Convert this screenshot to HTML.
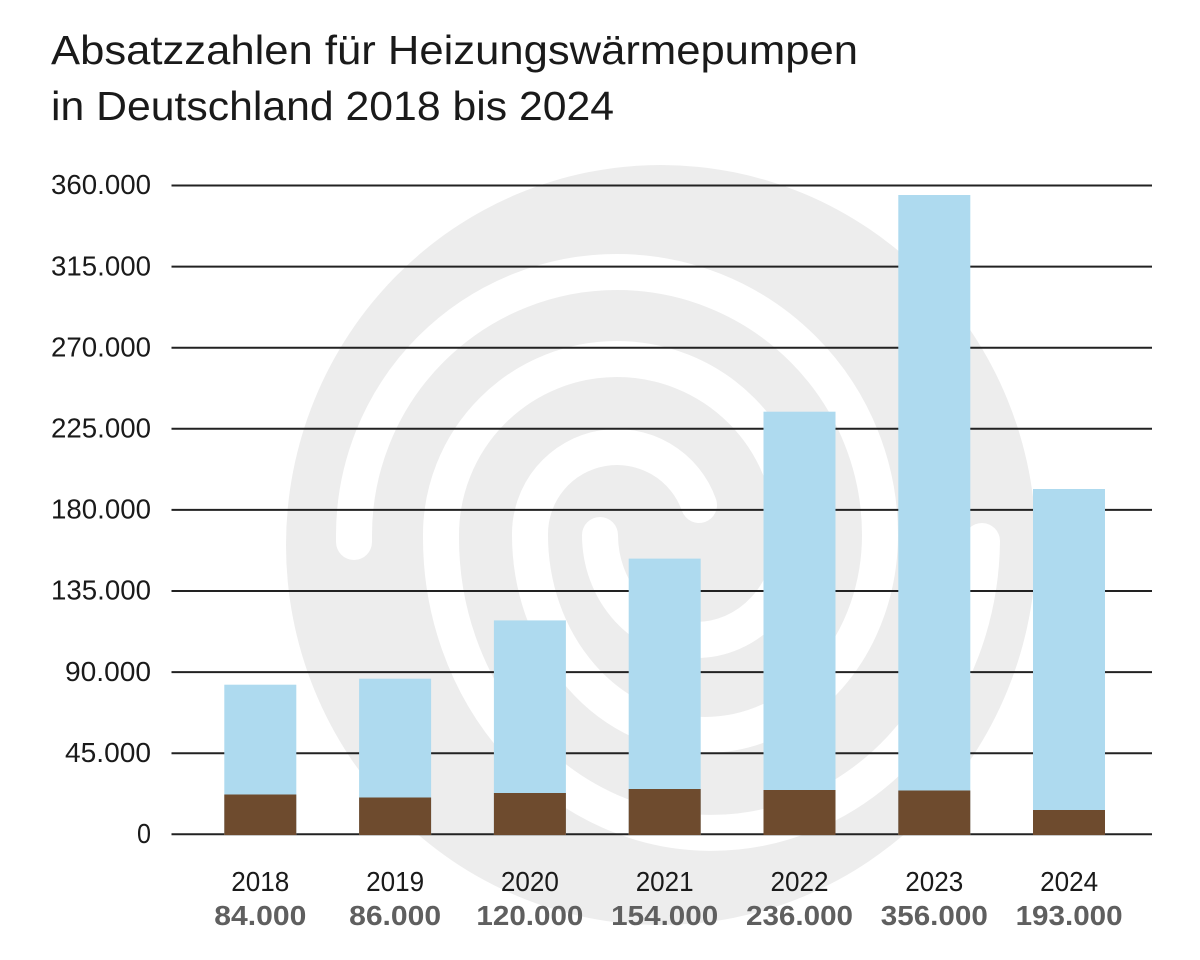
<!DOCTYPE html>
<html>
<head>
<meta charset="utf-8">
<style>
  html,body{margin:0;padding:0;background:#ffffff;}
  svg{display:block;}
  text{font-family:"Liberation Sans", "DejaVu Sans", sans-serif;}
</style>
</head>
<body>
<svg width="1200" height="960" viewBox="0 0 1200 960" xmlns="http://www.w3.org/2000/svg">
  <rect x="0" y="0" width="1200" height="960" fill="#ffffff"/>

  <!-- background spiral -->
  <ellipse cx="661" cy="545" rx="375" ry="380" fill="#ededed"/>
  <g fill="none" stroke="#ffffff" stroke-width="36" stroke-linecap="round">
    <!-- arm A: starts left, goes up clockwise -->
    <path d="M354 542 L354 535 A263 263 0 0 1 880 535 A175 200 0 0 1 530 535 A87 87 0 0 1 699 505"/>
    <!-- arm B: starts right, goes down clockwise -->
    <path d="M982 541 A270.5 295 0 0 1 441 535 A176 176 0 0 1 793 535 A96.5 105 0 0 1 600 535"/>
  </g>

  <!-- title -->
  <text x="51" y="64" font-size="41" fill="#1a1a1a" textLength="807" lengthAdjust="spacingAndGlyphs">Absatzzahlen für Heizungswärmepumpen</text>
  <text x="51" y="120" font-size="41" fill="#1a1a1a" textLength="563" lengthAdjust="spacingAndGlyphs">in Deutschland 2018 bis 2024</text>

  <!-- gridlines -->
  <g stroke="#222222" stroke-width="2">
    <line x1="171.5" y1="185.5" x2="1152" y2="185.5"/>
    <line x1="171.5" y1="266.6" x2="1152" y2="266.6"/>
    <line x1="171.5" y1="347.7" x2="1152" y2="347.7"/>
    <line x1="171.5" y1="428.8" x2="1152" y2="428.8"/>
    <line x1="171.5" y1="509.9" x2="1152" y2="509.9"/>
    <line x1="171.5" y1="591" x2="1152" y2="591"/>
    <line x1="171.5" y1="672.1" x2="1152" y2="672.1"/>
    <line x1="171.5" y1="753.2" x2="1152" y2="753.2"/>
    <line x1="171.5" y1="834.3" x2="1152" y2="834.3"/>
  </g>

  <!-- y axis labels -->
  <g font-size="28" fill="#1a1a1a">
    <text x="51" y="194.2" textLength="100" lengthAdjust="spacingAndGlyphs">360.000</text>
    <text x="51" y="275.3" textLength="100" lengthAdjust="spacingAndGlyphs">315.000</text>
    <text x="51" y="356.4" textLength="100" lengthAdjust="spacingAndGlyphs">270.000</text>
    <text x="51" y="437.5" textLength="100" lengthAdjust="spacingAndGlyphs">225.000</text>
    <text x="51" y="518.6" textLength="100" lengthAdjust="spacingAndGlyphs">180.000</text>
    <text x="51" y="599.7" textLength="100" lengthAdjust="spacingAndGlyphs">135.000</text>
    <text x="65" y="680.8" textLength="86" lengthAdjust="spacingAndGlyphs">90.000</text>
    <text x="65" y="761.9" textLength="86" lengthAdjust="spacingAndGlyphs">45.000</text>
    <text x="137" y="843" textLength="14" lengthAdjust="spacingAndGlyphs">0</text>
  </g>

  <!-- bars -->
  <g>
    <rect x="224.3" y="684.7" width="72" height="150.3" fill="#aedaef"/>
    <rect x="224.3" y="794.5" width="72" height="40.5" fill="#6e4b2e"/>

    <rect x="359.1" y="678.7" width="72" height="156.3" fill="#aedaef"/>
    <rect x="359.1" y="797.5" width="72" height="37.5" fill="#6e4b2e"/>

    <rect x="493.9" y="620.4" width="72" height="214.6" fill="#aedaef"/>
    <rect x="493.9" y="793" width="72" height="42" fill="#6e4b2e"/>

    <rect x="628.7" y="558.6" width="72" height="276.4" fill="#aedaef"/>
    <rect x="628.7" y="789" width="72" height="46" fill="#6e4b2e"/>

    <rect x="763.5" y="411.7" width="72" height="423.3" fill="#aedaef"/>
    <rect x="763.5" y="790" width="72" height="45" fill="#6e4b2e"/>

    <rect x="898.3" y="195" width="72" height="640" fill="#aedaef"/>
    <rect x="898.3" y="790.5" width="72" height="44.5" fill="#6e4b2e"/>

    <rect x="1033" y="489" width="72" height="346" fill="#aedaef"/>
    <rect x="1033" y="810" width="72" height="25" fill="#6e4b2e"/>
  </g>

  <!-- x labels: years -->
  <g font-size="28" fill="#1a1a1a">
    <text x="231.3" y="891" textLength="58" lengthAdjust="spacingAndGlyphs">2018</text>
    <text x="366.1" y="891" textLength="58" lengthAdjust="spacingAndGlyphs">2019</text>
    <text x="500.9" y="891" textLength="58" lengthAdjust="spacingAndGlyphs">2020</text>
    <text x="635.7" y="891" textLength="58" lengthAdjust="spacingAndGlyphs">2021</text>
    <text x="770.5" y="891" textLength="58" lengthAdjust="spacingAndGlyphs">2022</text>
    <text x="905.3" y="891" textLength="58" lengthAdjust="spacingAndGlyphs">2023</text>
    <text x="1040.1" y="891" textLength="58" lengthAdjust="spacingAndGlyphs">2024</text>
  </g>

  <!-- x labels: values -->
  <g font-size="28" font-weight="bold" fill="#5f5f5f">
    <text x="214.3" y="925" textLength="92" lengthAdjust="spacingAndGlyphs">84.000</text>
    <text x="349.1" y="925" textLength="92" lengthAdjust="spacingAndGlyphs">86.000</text>
    <text x="476.4" y="925" textLength="107" lengthAdjust="spacingAndGlyphs">120.000</text>
    <text x="611.2" y="925" textLength="107" lengthAdjust="spacingAndGlyphs">154.000</text>
    <text x="746" y="925" textLength="107" lengthAdjust="spacingAndGlyphs">236.000</text>
    <text x="880.8" y="925" textLength="107" lengthAdjust="spacingAndGlyphs">356.000</text>
    <text x="1015.6" y="925" textLength="107" lengthAdjust="spacingAndGlyphs">193.000</text>
  </g>
</svg>
</body>
</html>
